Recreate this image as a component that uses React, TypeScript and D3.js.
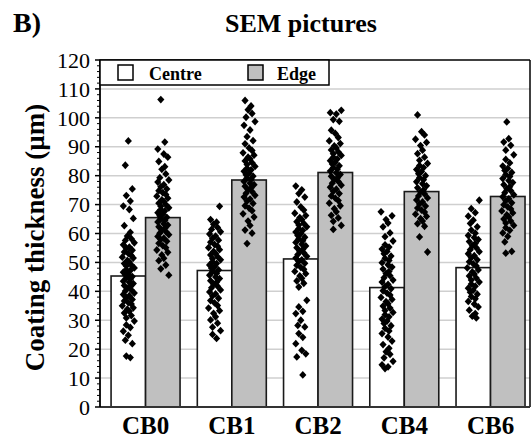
import React from "react";
import * as d3 from "d3";

const CATEGORIES = ["CB0", "CB1", "CB2", "CB4", "CB6"];
const SERIES = ["Centre", "Edge"];
const CENTRE_MEANS = [45.3, 47.2, 51.2, 41.3, 48.2];
const EDGE_MEANS = [65.5, 78.5, 81.1, 74.5, 72.8];
const Y_TICKS = [0, 10, 20, 30, 40, 50, 60, 70, 80, 90, 100, 110, 120];

const CB0_CENTRE = [92, 83.6, 75.4, 73.1, 71.2, 69.5, 68.3, 65.2, 62.7, 60.4, 59.1, 58.2, 57.6, 56.8, 56.1, 55.3, 54.9, 54.2, 53.6, 53.1, 52.4, 51.8, 51.5, 50.7, 50.2, 49.6, 49.1, 48.8, 48.1, 47.5, 47.2, 46.6, 46.0, 45.7, 45.1, 44.6, 44.2, 43.5, 43.1, 42.7, 42.0, 41.6, 41.1, 40.5, 40.1, 39.4, 38.9, 38.5, 37.8, 37.2, 36.7, 36.1, 35.6, 35.0, 34.3, 33.8, 33.1, 32.5, 31.6, 30.8, 29.7, 28.4, 27.5, 26.2, 24.8, 23.1, 21.9, 17.6, 17.1];
const CB0_EDGE = [106.3, 91.6, 89.2, 87.5, 86.4, 84.9, 83.1, 82.2, 80.6, 79.3, 78.5, 77.8, 76.9, 76.2, 75.4, 74.8, 74.1, 73.5, 72.9, 72.2, 71.6, 71.1, 70.5, 70.0, 69.4, 68.9, 68.3, 67.8, 67.2, 66.7, 66.1, 65.6, 65.0, 64.5, 64.0, 63.4, 62.9, 62.3, 61.8, 61.2, 60.7, 60.1, 59.6, 59.0, 58.4, 57.9, 57.3, 56.6, 55.8, 55.1, 54.3, 53.5, 52.6, 51.4, 50.6, 49.1, 47.8, 45.6];
const CB1_CENTRE = [69.4, 64.8, 63.9, 63.2, 62.1, 61.4, 60.6, 59.8, 59.1, 58.3, 57.7, 57.0, 56.2, 55.6, 55.1, 54.4, 53.8, 53.1, 52.6, 52.0, 51.3, 50.9, 50.2, 49.6, 49.1, 48.5, 48.0, 47.4, 46.8, 46.2, 45.6, 45.0, 44.4, 43.7, 43.1, 42.5, 41.8, 41.2, 40.5, 39.8, 39.1, 38.4, 37.6, 36.8, 36.0, 35.1, 34.2, 33.3, 32.4, 31.2, 30.1, 29.0, 27.6, 26.4, 25.1, 23.7];
const CB1_EDGE = [106.0, 104.1, 102.8, 101.5, 100.2, 98.7, 97.4, 95.8, 93.5, 92.1, 91.0, 89.6, 88.7, 87.9, 87.1, 86.4, 85.8, 85.1, 84.5, 83.9, 83.2, 82.6, 82.0, 81.5, 80.9, 80.3, 79.8, 79.2, 78.6, 78.0, 77.4, 76.9, 76.3, 75.7, 75.1, 74.5, 73.9, 73.2, 72.6, 71.9, 71.2, 70.4, 69.6, 68.8, 67.9, 66.8, 65.7, 64.3, 62.8, 61.2, 60.1, 56.5];
const CB2_CENTRE = [76.4, 75.1, 73.8, 72.6, 70.9, 69.2, 68.1, 67.0, 66.2, 65.5, 64.8, 64.1, 63.5, 62.9, 62.3, 61.7, 61.1, 60.5, 59.9, 59.3, 58.7, 58.1, 57.5, 56.9, 56.3, 55.7, 55.1, 54.5, 53.9, 53.3, 52.7, 52.1, 51.5, 50.9, 50.3, 49.7, 49.0, 48.3, 47.6, 46.9, 46.1, 45.3, 44.5, 43.6, 42.8, 41.5, 36.9, 34.6, 33.1, 32.3, 30.0, 28.2, 27.7, 25.4, 24.1, 21.9, 19.6, 18.4, 17.3, 11.1];
const CB2_EDGE = [102.6, 101.8, 101.3, 99.4, 98.8, 95.7, 94.6, 93.2, 92.0, 91.1, 90.3, 89.6, 88.9, 88.2, 87.6, 87.0, 86.4, 85.8, 85.2, 84.6, 84.0, 83.4, 82.8, 82.2, 81.6, 81.0, 80.4, 79.8, 79.2, 78.6, 78.0, 77.4, 76.7, 76.0, 75.3, 74.6, 73.8, 73.0, 72.2, 71.4, 70.5, 69.6, 68.6, 67.5, 66.3, 65.4, 64.2, 62.8, 61.4];
const CB4_CENTRE = [67.5, 66.1, 64.8, 63.6, 62.3, 60.2, 58.9, 57.4, 56.1, 55.3, 54.6, 53.8, 53.0, 52.2, 51.4, 50.7, 49.9, 49.2, 48.4, 47.7, 46.9, 46.2, 45.4, 44.7, 43.9, 43.2, 42.4, 41.7, 40.9, 40.2, 39.4, 38.7, 37.9, 37.2, 36.4, 35.7, 34.9, 34.2, 33.4, 32.7, 31.9, 31.2, 30.4, 29.7, 28.9, 28.1, 27.2, 26.3, 25.4, 24.2, 22.8, 21.6, 20.3, 19.1, 18.2, 17.0, 15.8, 14.6, 13.9, 13.3];
const CB4_EDGE = [101.0, 95.2, 94.1, 92.6, 91.5, 90.4, 88.8, 87.6, 86.4, 85.3, 84.2, 83.5, 82.8, 82.1, 81.4, 80.7, 80.0, 79.3, 78.6, 77.9, 77.2, 76.5, 75.8, 75.1, 74.4, 73.7, 73.0, 72.3, 71.6, 70.9, 70.2, 69.5, 68.8, 68.1, 67.4, 66.7, 65.9, 65.1, 64.3, 63.4, 62.5, 58.8, 53.6];
const CB6_CENTRE = [71.5, 68.6, 67.2, 66.0, 64.6, 63.5, 62.3, 61.2, 60.1, 59.3, 58.6, 57.9, 57.2, 56.5, 55.8, 55.1, 54.4, 53.7, 53.0, 52.3, 51.6, 50.9, 50.2, 49.5, 48.8, 48.1, 47.4, 46.7, 46.0, 45.3, 44.6, 43.9, 43.2, 42.5, 41.8, 41.1, 40.4, 39.7, 39.0, 38.2, 37.4, 36.5, 35.6, 34.6, 33.5, 32.3, 31.4, 30.8];
const CB6_EDGE = [98.6, 92.8, 91.6, 90.5, 88.8, 87.2, 85.6, 84.4, 83.3, 82.5, 81.8, 81.1, 80.4, 79.7, 79.0, 78.3, 77.6, 76.9, 76.2, 75.5, 74.8, 74.1, 73.4, 72.7, 72.0, 71.3, 70.6, 69.9, 69.2, 68.5, 67.8, 67.1, 66.4, 65.7, 65.0, 64.3, 63.6, 62.8, 62.0, 61.1, 60.2, 59.0, 57.1, 53.8, 53.2];

const CENTRE_POINTS = [CB0_CENTRE, CB1_CENTRE, CB2_CENTRE, CB4_CENTRE, CB6_CENTRE];
const EDGE_POINTS = [CB0_EDGE, CB1_EDGE, CB2_EDGE, CB4_EDGE, CB6_EDGE];

// horizontal spread pattern for the dots (pixels), a style constant
const SPREAD = [0, -3, 4, -2, 2, -5, 1, 5, -4, 2, -1, 3, -3, 6, -5, 1, -2, 4, -4, 0, 3, -6, 5, -1, 1, -4, 3, -2, 6, -2, 2, -5];

const W = 531;
const H = 443;
const LEFT = 100;
const RIGHT = 530;
const TOP = 60;
const BOTTOM = 407;
const FONT = "Liberation Serif";

export default function App() {
  const y = d3.scaleLinear().domain([0, 120]).range([BOTTOM, TOP]);
  const x = d3
    .scaleBand<string>()
    .domain(CATEGORIES)
    .range([LEFT, RIGHT])
    .paddingInner(0.2)
    .paddingOuter(0.093)
    .align(0.69);
  const bw = x.bandwidth() / 2;
  const minor = d3.range(0, 121, 2).filter((v) => v % 10 !== 0);
  const diamond = "M0,-3.9L3.6,0L0,3.9L-3.6,0Z";

  return (
    <svg width={W} height={H} style={{ position: "absolute", left: 0, top: 0, background: "#fff" }}>
      <rect x={0} y={0} width={W} height={H} fill="#fff" />
      <text x={13} y={32} fontSize={28} fontWeight="bold" fontFamily={FONT}>B)</text>
      <text x={301} y={32} fontSize={26} fontWeight="bold" textAnchor="middle" fontFamily={FONT}>SEM pictures</text>

      {/* gridlines */}
      {Y_TICKS.filter((t) => t > 0 && t < 120).map((t) => (
        <line key={"g" + t} x1={LEFT} x2={RIGHT} y1={y(t)} y2={y(t)} stroke="#cfcfcf" strokeWidth={1.5} />
      ))}

      {/* bars */}
      {CATEGORIES.map((c, i) => (
        <g key={"b" + c}>
          <rect x={x(c)!} y={y(CENTRE_MEANS[i])} width={bw} height={BOTTOM - y(CENTRE_MEANS[i])} fill="#fff" stroke="#1a1a1a" strokeWidth={1.6} />
          <rect x={x(c)! + bw} y={y(EDGE_MEANS[i])} width={bw} height={BOTTOM - y(EDGE_MEANS[i])} fill="#c0c0c0" stroke="#1a1a1a" strokeWidth={1.6} />
        </g>
      ))}

      {/* points */}
      {CATEGORIES.map((c, i) => (
        <g key={"p" + c}>
          {CENTRE_POINTS[i].map((v, j) => (
            <path key={"c" + j} d={diamond} fill="#000" transform={`translate(${x(c)! + bw / 2 + SPREAD[(j + i * 7) % SPREAD.length]},${y(v)})`} />
          ))}
          {EDGE_POINTS[i].map((v, j) => (
            <path key={"e" + j} d={diamond} fill="#000" transform={`translate(${x(c)! + bw * 1.5 + SPREAD[(j + i * 5 + 3) % SPREAD.length]},${y(v)})`} />
          ))}
        </g>
      ))}

      {/* frame */}
      <line x1={LEFT} x2={RIGHT} y1={TOP} y2={TOP} stroke="#000" strokeWidth={1.5} />
      <line x1={RIGHT} x2={RIGHT} y1={TOP} y2={BOTTOM} stroke="#000" strokeWidth={1.5} />
      <line x1={LEFT} x2={RIGHT} y1={BOTTOM} y2={BOTTOM} stroke="#333" strokeWidth={1.8} />
      <line x1={LEFT} x2={LEFT} y1={TOP} y2={BOTTOM} stroke="#000" strokeWidth={1.8} />

      {/* legend */}
      <rect x={LEFT} y={TOP} width={229} height={25} fill="#fff" stroke="#000" strokeWidth={1.5} />
      <rect x={118} y={65} width={15} height={15} fill="#fff" stroke="#000" strokeWidth={1.5} />
      <text x={149} y={80} fontSize={18} fontWeight="bold" fontFamily={FONT}>{SERIES[0]}</text>
      <rect x={248} y={65} width={15} height={15} fill="#c0c0c0" stroke="#000" strokeWidth={1.5} />
      <text x={277} y={80} fontSize={18} fontWeight="bold" fontFamily={FONT}>{SERIES[1]}</text>

      {/* y axis ticks */}
      {minor.map((t) => (
        <line key={"m" + t} x1={LEFT - 3} x2={LEFT} y1={y(t)} y2={y(t)} stroke="#000" strokeWidth={1} />
      ))}
      {Y_TICKS.map((t) => (
        <g key={"t" + t}>
          <line x1={LEFT - 5} x2={LEFT} y1={y(t)} y2={y(t)} stroke="#000" strokeWidth={1.5} />
          <text x={90} y={y(t)} dy="0.35em" fontSize={22} textAnchor="end" fontFamily={FONT}>{t}</text>
        </g>
      ))}

      {/* x labels */}
      {CATEGORIES.map((c) => (
        <text key={"x" + c} x={x(c)! + x.bandwidth() / 2} y={434} fontSize={25} fontWeight="bold" textAnchor="middle" fontFamily={FONT}>{c}</text>
      ))}

      <text transform={`translate(44,${(TOP + BOTTOM) / 2 + 4}) rotate(-90)`} fontSize={27} fontWeight="bold" textAnchor="middle" fontFamily={FONT}>Coating thickness (µm)</text>
    </svg>
  );
}
